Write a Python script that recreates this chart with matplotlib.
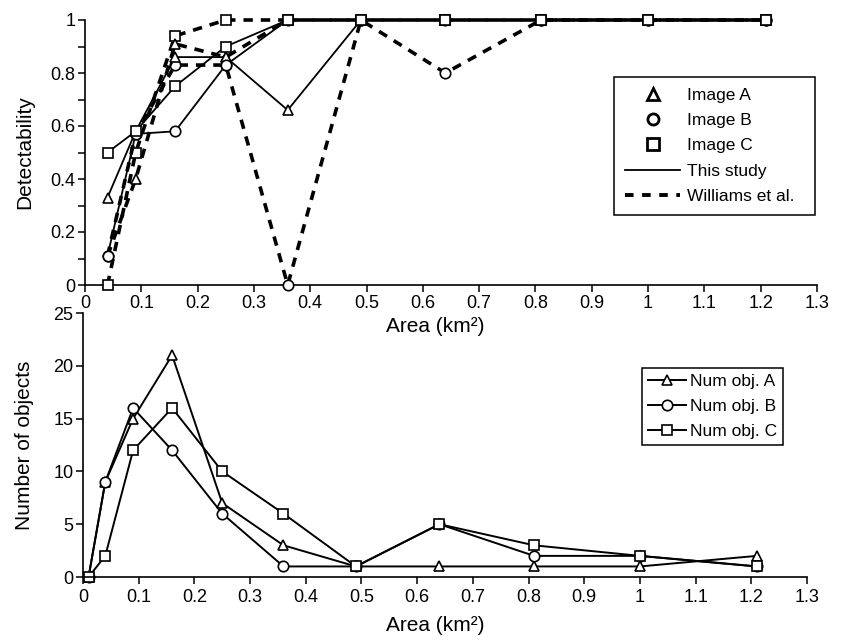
import matplotlib
matplotlib.use("Agg")
import matplotlib.pyplot as plt
from matplotlib.lines import Line2D
import numpy as np

plt.rcParams['font.family'] = ['Liberation Sans', 'DejaVu Sans']

# ---- data: top panel (detectability) ----
area_top = [0.04, 0.09, 0.16, 0.25, 0.36, 0.49, 0.64, 0.81, 1.0, 1.21]
study_A = [0.33, 0.58, 0.86, 0.86, 0.66, 1.0, 1.0, 1.0, 1.0, 1.0]
study_B = [0.11, 0.57, 0.58, 0.83, 1.0, 1.0, 1.0, 1.0, 1.0, 1.0]
study_C = [0.50, 0.58, 0.75, 0.90, 1.0, 1.0, 1.0, 1.0, 1.0, 1.0]
williams_A = [0.11, 0.40, 0.91, 0.86, 1.0, 1.0, 1.0, 1.0, 1.0, 1.0]
williams_B = [0.11, 0.57, 0.83, 0.83, 0.0, 1.0, 0.80, 1.0, 1.0, 1.0]
williams_C = [0.0, 0.50, 0.94, 1.0, 1.0, 1.0, 1.0, 1.0, 1.0, 1.0]

# ---- data: bottom panel (number of objects) ----
area_bot = [0.01, 0.04, 0.09, 0.16, 0.25, 0.36, 0.49, 0.64, 0.81, 1.0, 1.21]
num_A = [0, 9, 15, 21, 7, 3, 1, 1, 1, 1, 2]
num_B = [0, 9, 16, 12, 6, 1, 1, 5, 2, 2, 1]
num_C = [0, 2, 12, 16, 10, 6, 1, 5, 3, 2, 1]

x_ticks = [0, 0.1, 0.2, 0.3, 0.4, 0.5, 0.6, 0.7, 0.8, 0.9, 1.0, 1.1, 1.2, 1.3]
x_tick_labels = ['0', '0.1', '0.2', '0.3', '0.4', '0.5', '0.6', '0.7', '0.8',
                 '0.9', '1', '1.1', '1.2', '1.3']
top_y_major = [0, 0.2, 0.4, 0.6, 0.8, 1.0]
top_y_labels = ['0', '0.2', '0.4', '0.6', '0.8', '1']
top_y_minor = [0.1, 0.3, 0.5, 0.7, 0.9]
bot_y_ticks = [0, 5, 10, 15, 20, 25]
bot_y_labels = ['0', '5', '10', '15', '20', '25']

W, H = 841, 640
fig = plt.figure(figsize=(W / 100, H / 100), dpi=100)
fig.patch.set_facecolor('white')


def px_axes(l, r, t, b):
    return fig.add_axes([l / W, 1 - b / H, (r - l) / W, (b - t) / H])


ax1 = px_axes(85, 817, 20, 285)
ax2 = px_axes(83, 807, 313, 577)
ax1.patch.set_alpha(0)
ax2.patch.set_alpha(0)

TICK_FS = 13
LABEL_FS = 15
LEG_FS = 12.5

mk = dict(mfc='white', mec='black', mew=1.2, color='black', clip_on=False)
ms = 7.5
dash_kw = dict(ls=(0, (2.6, 2.2)), lw=2.6, dash_capstyle='butt')

# Williams et al. (dashed)
ax1.plot(area_top, williams_C, marker='s', ms=ms, **dash_kw, **mk, zorder=3)
ax1.plot(area_top, williams_B, marker='o', ms=ms, **dash_kw, **mk, zorder=3)
ax1.plot(area_top, williams_A, marker='^', ms=ms, markevery=list(range(1, 10)),
         **dash_kw, **mk, zorder=3)
# This study (solid)
ax1.plot(area_top, study_A, marker='^', ms=ms, lw=1.3, **mk, zorder=4)
ax1.plot(area_top, study_B, marker='o', ms=ms, lw=1.3, **mk, zorder=4)
ax1.plot(area_top, study_C, marker='s', ms=ms, lw=1.3, **mk, zorder=4)

ax2.plot(area_bot, num_A, marker='^', ms=ms, lw=1.4, label='Num obj. A', **mk)
ax2.plot(area_bot, num_B, marker='o', ms=ms, lw=1.4, label='Num obj. B', **mk)
ax2.plot(area_bot, num_C, marker='s', ms=ms, lw=1.4, label='Num obj. C', **mk)

for ax in (ax1, ax2):
    ax.set_xlim(0, 1.3)
    ax.set_xticks(x_ticks)
    ax.set_xticklabels(x_tick_labels)
    for s in ('top', 'right'):
        ax.spines[s].set_visible(False)
    for s in ('left', 'bottom'):
        ax.spines[s].set_linewidth(1.2)
    ax.tick_params(which='both', direction='out', length=5, width=1.1,
                   labelsize=TICK_FS, pad=2)

ax1.set_xlabel('Area (km²)', fontsize=LABEL_FS)
ax1.xaxis.set_label_coords(0.478, -0.122)
ax2.tick_params(axis='x', pad=4)
ax2.set_xlabel('Area (km²)', fontsize=LABEL_FS)
ax2.xaxis.set_label_coords(0.486, -0.146)

ax1.set_ylim(0, 1)
ax1.set_yticks(top_y_major)
ax1.set_yticklabels(top_y_labels)
ax1.set_yticks(top_y_minor, minor=True)
ax1.set_ylabel('Detectability', fontsize=LABEL_FS, labelpad=11.5)

ax2.set_ylim(0, 25)
ax2.set_yticks(bot_y_ticks)
ax2.set_yticklabels(bot_y_labels)
ax2.set_ylabel('Number of objects', fontsize=LABEL_FS, labelpad=14)

# legends
handles_top = [
    Line2D([], [], ls='none', marker='^', ms=8, mfc='white', mec='black', mew=2),
    Line2D([], [], ls='none', marker='o', ms=8, mfc='white', mec='black', mew=2),
    Line2D([], [], ls='none', marker='s', ms=8, mfc='white', mec='black', mew=2),
    Line2D([], [], color='black', lw=1.3),
    Line2D([], [], color='black', lw=2.8, ls=(0, (2.2, 2.2))),
]
labels_top = ['Image A', 'Image B', 'Image C', 'This study', 'Williams et al.  ']
leg1 = fig.legend(handles_top, labels_top, loc='upper left',
                  bbox_to_anchor=(614 / W, 1 - 77 / H), fontsize=LEG_FS,
                  frameon=True, fancybox=False, framealpha=1, edgecolor='black',
                  handlelength=3.2, handletextpad=0.4, labelspacing=0.58,
                  borderpad=0.62, borderaxespad=0)
leg1.get_frame().set_linewidth(1.1)

leg2 = fig.legend(*ax2.get_legend_handles_labels(), loc='upper left',
                  bbox_to_anchor=(642 / W, 1 - 368 / H), fontsize=LEG_FS,
                  frameon=True, fancybox=False, framealpha=1, edgecolor='black',
                  handlelength=2.2, handletextpad=0.2, labelspacing=0.55,
                  borderpad=0.35, borderaxespad=0, markerscale=1.0)
leg2.get_frame().set_linewidth(1.1)

fig.savefig('out.png', dpi=100, facecolor='white')
